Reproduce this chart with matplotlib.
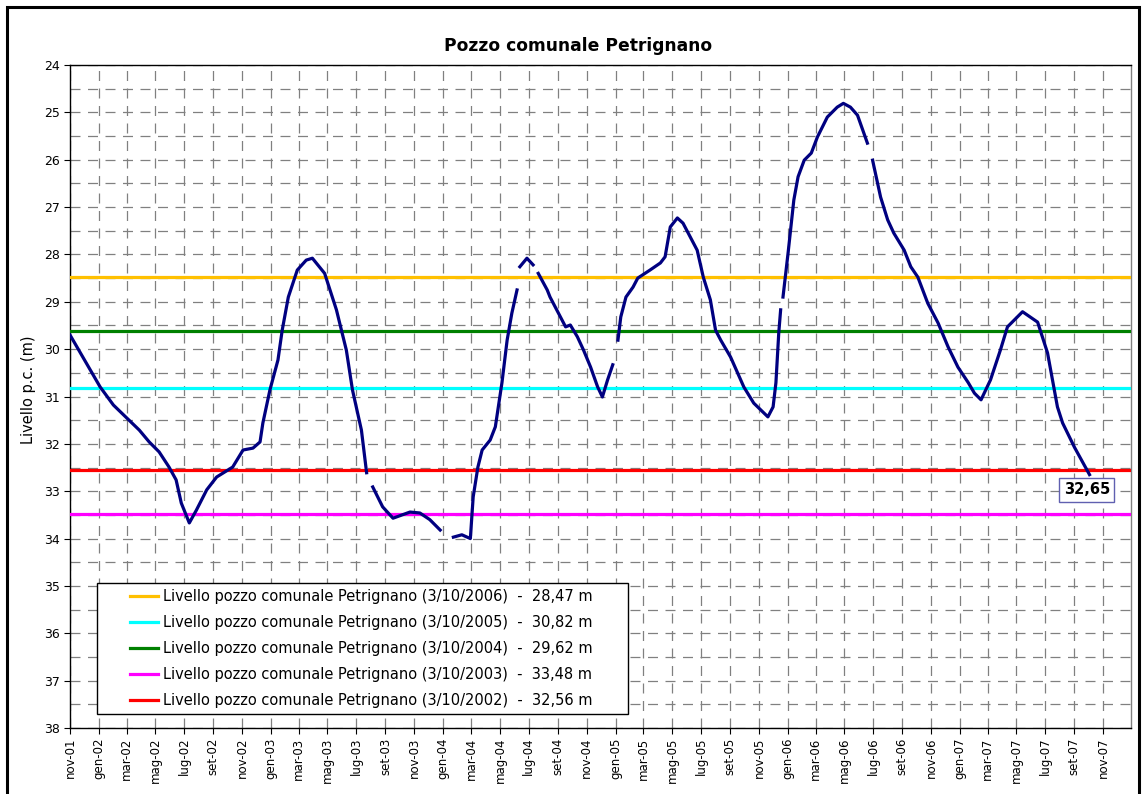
import numpy as np
import pandas as pd
import matplotlib
matplotlib.use("Agg")
import matplotlib.pyplot as plt
import matplotlib.dates as mdates
from matplotlib.patches import Rectangle
from matplotlib.ticker import FuncFormatter, MultipleLocator

# DATA
MESI = ["gen", "feb", "mar", "apr", "mag", "giu", "lug", "ago", "set", "ott", "nov", "dic"]

# well level (m below ground), None marks a gap in the record
date = [
    "2001-11-01", "2002-01-04", "2002-02-01", "2002-03-01", "2002-03-28", "2002-04-18",
    "2002-05-09", "2002-05-30", "2002-06-14", "2002-06-25", "2002-07-12", "2002-07-27",
    "2002-08-18", "2002-09-08", "2002-10-12", "2002-11-03", "2002-11-24", "2002-12-09",
    "2002-12-15", "2002-12-30", "2003-01-16", "2003-01-25", "2003-02-07", "2003-02-26",
    "2003-03-17", "2003-03-30", "2003-04-25", "2003-05-20", "2003-06-10", "2003-06-23",
    "2003-07-12", "2003-07-23", "2003-07-29",
    "2003-08-05", "2003-08-26", "2003-09-17", "2003-10-23", "2003-11-13", "2003-12-04",
    "2003-12-26", "2004-01-10",
    "2004-01-23", "2004-02-10", "2004-02-28", "2004-03-05", "2004-03-15", "2004-03-24",
    "2004-04-10", "2004-04-21", "2004-05-05", "2004-05-16", "2004-05-26", "2004-06-06",
    "2004-06-09",
    "2004-06-12", "2004-06-27", "2004-07-10", "2004-07-15",
    "2004-07-21", "2004-08-09", "2004-08-15", "2004-09-06", "2004-09-17", "2004-09-27",
    "2004-10-12", "2004-10-25", "2004-11-09", "2004-11-24", "2004-12-04", "2004-12-15",
    "2004-12-26", "2005-01-01",
    "2005-01-06", "2005-01-12", "2005-01-23", "2005-02-07", "2005-02-17", "2005-03-15",
    "2005-04-06", "2005-04-16", "2005-04-27", "2005-05-12", "2005-05-24", "2005-06-23",
    "2005-07-06", "2005-07-21", "2005-08-01", "2005-08-12", "2005-09-02", "2005-09-30",
    "2005-10-21", "2005-11-20", "2005-12-01", "2005-12-07", "2005-12-13", "2005-12-17",
    "2005-12-19",
    "2005-12-22", "2006-01-02", "2006-01-14", "2006-01-23", "2006-02-05", "2006-02-20",
    "2006-03-05", "2006-03-26", "2006-04-16", "2006-04-29", "2006-05-14", "2006-05-29",
    "2006-06-19", "2006-06-24",
    "2006-06-30", "2006-07-17", "2006-08-01", "2006-08-14", "2006-09-05", "2006-09-19",
    "2006-10-04", "2006-10-25", "2006-11-16", "2006-12-07", "2006-12-28", "2007-01-19",
    "2007-02-01", "2007-02-15", "2007-03-07", "2007-03-28", "2007-04-12", "2007-05-14",
    "2007-06-15", "2007-07-06", "2007-07-27", "2007-08-07", "2007-09-01", "2007-10-03",
]
livello = [
    29.70, 30.80, 31.18, 31.45, 31.71, 31.96,
    32.17, 32.49, 32.76, 33.25, 33.67, 33.40,
    32.97, 32.70, 32.49, 32.13, 32.09, 31.96,
    31.56, 30.86, 30.23, 29.60, 28.90, 28.33,
    28.12, 28.08, 28.40, 29.17, 30.02, 30.86,
    31.71, 32.61, None,
    32.91, 33.33, 33.57, 33.44, 33.46, 33.60,
    33.82, None,
    33.97, 33.92, 34.00, 33.12, 32.49, 32.13,
    31.92, 31.64, 30.71, 29.81, 29.24, 28.75,
    None,
    28.26, 28.08, 28.22, None,
    28.40, 28.75, 28.90, 29.32, 29.53, 29.49,
    29.74, 30.02, 30.38, 30.80, 31.01, 30.65,
    30.33, None,
    29.81, 29.32, 28.90, 28.69, 28.50, 28.33,
    28.18, 28.05, 27.42, 27.23, 27.34, 27.91,
    28.48, 28.96, 29.60, 29.81, 30.17, 30.80,
    31.14, 31.43, 31.22, 30.71, 29.66, 29.17,
    None,
    28.90, 27.95, 26.85, 26.36, 26.01, 25.86,
    25.52, 25.10, 24.89, 24.81, 24.89, 25.06,
    25.65, None,
    26.01, 26.79, 27.27, 27.55, 27.91, 28.26,
    28.48, 29.03, 29.45, 29.95, 30.38, 30.71,
    30.93, 31.07, 30.65, 30.02, 29.53, 29.21,
    29.43, 30.08, 31.22, 31.56, 32.07, 32.65,
]

# reference levels measured on 3 October of each year
rif_date = ["3/10/2006", "3/10/2005", "3/10/2004", "3/10/2003", "3/10/2002"]
rif_livello = [28.47, 30.82, 29.62, 33.48, 32.56]
rif_colori = ["#FFC000", "#00FFFF", "#008000", "#FF00FF", "#FF0000"]

ultimo = "32,65"

x = pd.to_datetime(date)
y = np.array([np.nan if v is None else v for v in livello])

W, H = 1142, 794
fig = plt.figure(figsize=(W / 100, H / 100), dpi=100)
ax = fig.add_axes([70 / W, 1 - 728 / H, (1131 - 70) / W, (728 - 65) / H])

# outer chart border
fig.patches.append(Rectangle((7 / W, -0.02), 1132 / W, 1 - 7 / H + 0.02,
                             transform=fig.transFigure, fill=False,
                             edgecolor="black", linewidth=2.2))

# reference lines
for d, v, c in zip(rif_date, rif_livello, rif_colori):
    lab = "Livello pozzo comunale Petrignano (%s)  -  %s m" % (d, ("%.2f" % v).replace(".", ","))
    ax.axhline(v, color=c, linewidth=2.3, label=lab, zorder=3)

ax.plot(x, y, color="#000080", linewidth=2.3, zorder=4)

# last value label
ax.annotate(ultimo, xy=(x[-1], y[-1]), xytext=(-2, -11), textcoords="offset points",
            ha="center", va="center", fontsize=10.5, fontweight="bold",
            bbox=dict(boxstyle="square,pad=0.3", fc="white", ec="#6060b0", lw=1),
            zorder=6)

# axes
ax.set_ylim(38, 24)
ax.yaxis.set_major_locator(MultipleLocator(1))
ax.yaxis.set_minor_locator(MultipleLocator(0.5))
ax.set_xlim(pd.Timestamp("2001-11-01"), pd.Timestamp("2007-12-30"))
ax.xaxis.set_major_locator(mdates.MonthLocator(bymonth=[1, 3, 5, 7, 9, 11]))
ax.xaxis.set_major_formatter(FuncFormatter(
    lambda v, pos: "%s-%s" % (MESI[mdates.num2date(v).month - 1], mdates.num2date(v).strftime("%y"))))

ax.grid(True, which="major", axis="x", color="#808080", linestyle=(0, (8, 6)), linewidth=0.9)
ax.grid(True, which="both", axis="y", color="#808080", linestyle=(0, (8, 6)), linewidth=0.9)
ax.set_axisbelow(True)

ax.tick_params(axis="x", which="major", direction="out", length=4, labelsize=8.5,
               labelrotation=90, pad=3)
ax.tick_params(axis="y", which="major", direction="out", length=4, labelsize=9, pad=3)
ax.tick_params(axis="y", which="minor", length=0)

for s in ["left", "bottom", "top"]:
    ax.spines[s].set_color("black")
    ax.spines[s].set_linewidth(1.0)
ax.spines["right"].set_color("#808080")
ax.spines["right"].set_linewidth(1.0)

fig.text(28 / W, 1 - 390 / H, "Livello p.c. (m)", rotation=90, ha="center", va="center",
         fontsize=10.5)
fig.text(578 / W, 1 - 46 / H, "Pozzo comunale Petrignano", ha="center", va="center",
         fontsize=12.3, fontweight="bold")

# legend: frame drawn separately so the inner padding matches
ax.add_patch(Rectangle(((97 - 70) / 1061, (728 - 714) / 663), 531 / 1061, 131 / 663,
                       transform=ax.transAxes, facecolor="white", edgecolor="black",
                       linewidth=1.0, zorder=7))
leg = ax.legend(loc="upper left", bbox_to_anchor=((130 - 70) / 1061, (728 - 589) / 663),
                fontsize=10.5, frameon=False, borderpad=0, borderaxespad=0,
                handlelength=1.9, handletextpad=0.35, labelspacing=0.76)
leg.set_zorder(8)

fig.savefig("out.png", dpi=100)
